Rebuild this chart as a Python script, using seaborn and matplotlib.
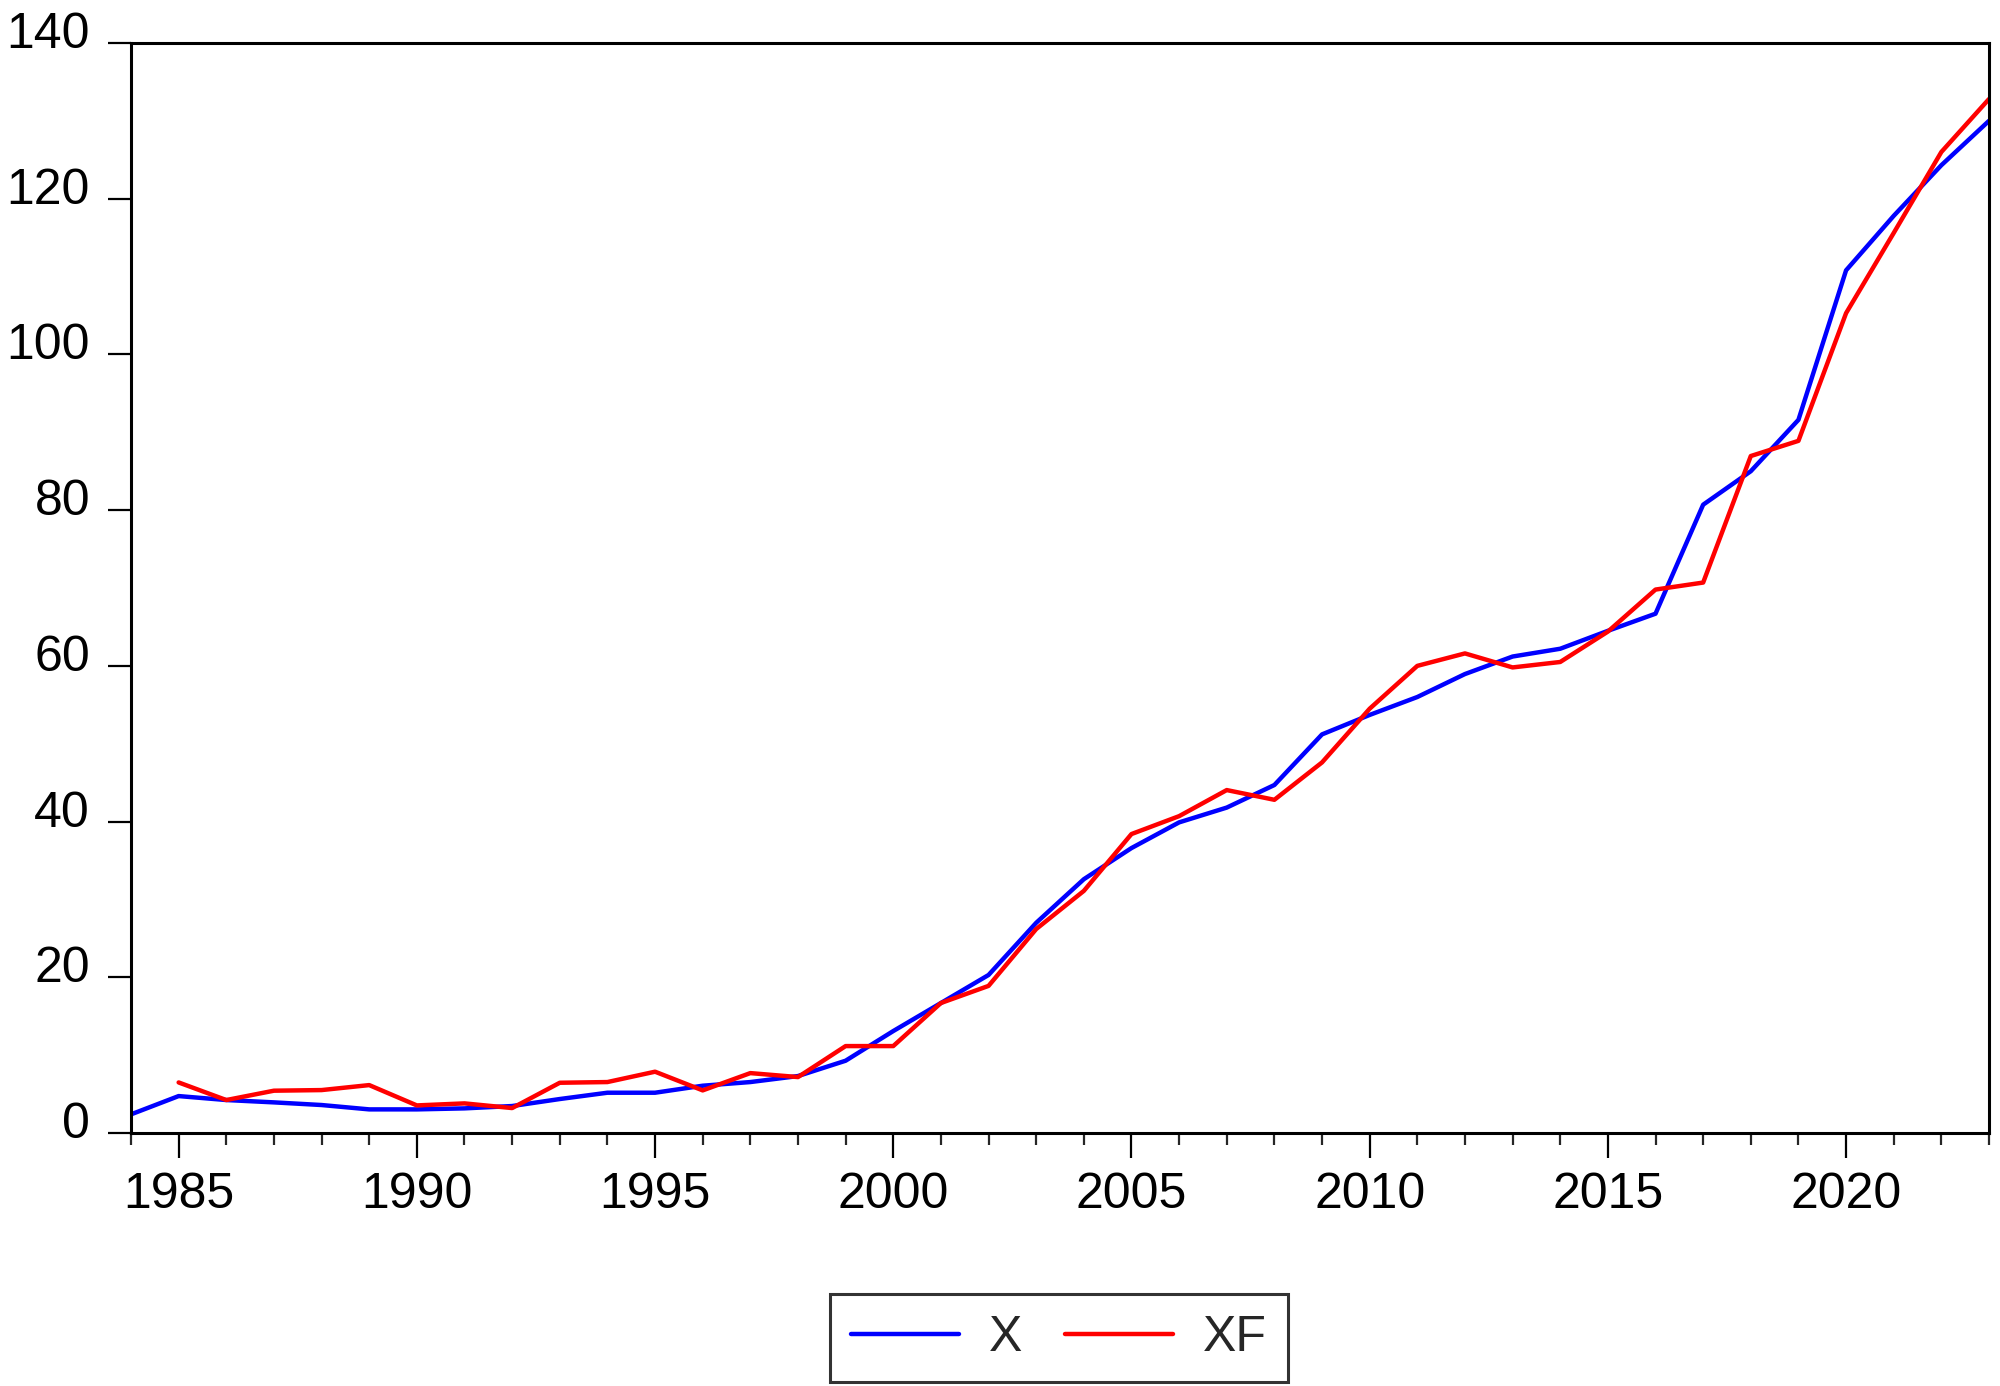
import numpy as np
import pandas as pd
import seaborn as sns
import matplotlib
matplotlib.use("Agg")
import matplotlib.pyplot as plt
from matplotlib.ticker import MultipleLocator
import matplotlib.transforms as mtransforms

# ---- data ----
years_x = list(range(1984, 2024))
x_vals = [2.4, 4.75, 4.24, 3.94, 3.6, 3.04, 3.04, 3.17, 3.47, 4.37,
          5.18, 5.18, 6.08, 6.55, 7.32, 9.29, 13.1, 16.7, 20.3, 27.0,
          32.6, 36.6, 39.9, 41.8, 44.7, 51.2, 53.7, 56.0, 58.95, 61.2,
          62.2, 64.5, 66.7, 80.7, 85.0, 91.6, 110.8, 117.8, 124.3, 130.0]

years_xf = list(range(1985, 2024))
xf_vals = [6.5, 4.24, 5.44, 5.52, 6.16, 3.55, 3.81, 3.21, 6.46, 6.55,
           7.88, 5.48, 7.7, 7.19, 11.17, 11.17, 16.7, 18.9, 26.2, 31.1,
           38.4, 40.7, 44.05, 42.8, 47.6, 54.5, 60.0, 61.6, 59.8, 60.5,
           64.4, 69.8, 70.7, 86.95, 88.9, 105.3, 115.6, 126.0, 132.8]

series_names = ["X", "XF"]
series_colors = ["#0000FF", "#FF0000"]
y_ticks = [0, 20, 40, 60, 80, 100, 120, 140]
x_major = [1985, 1990, 1995, 2000, 2005, 2010, 2015, 2020]

df = pd.concat([
    pd.DataFrame({"year": years_x, "value": x_vals, "series": "X"}),
    pd.DataFrame({"year": years_xf, "value": xf_vals, "series": "XF"}),
], ignore_index=True)

sns.set_style("white")
plt.rcParams["font.family"] = ["Liberation Sans", "DejaVu Sans"]

fig = plt.figure(figsize=(20, 13.86), dpi=100)
ax = fig.add_axes([0.0655, 0.1825, 0.929, 0.7865])

sns.lineplot(data=df, x="year", y="value", hue="series",
             hue_order=series_names, palette=series_colors,
             linewidth=3.2, legend=False, ax=ax, sort=True)

ax.set_xlim(1984, 2023)
ax.set_ylim(0, 140)
ax.set_xlabel("")
ax.set_ylabel("")

ax.set_yticks(y_ticks)
ax.set_yticklabels([str(v) for v in y_ticks])
ax.set_xticks(x_major)
ax.set_xticklabels([str(v) for v in x_major])
ax.xaxis.set_minor_locator(MultipleLocator(1))

for sp in ax.spines.values():
    sp.set_visible(True)
    sp.set_color("black")
    sp.set_linewidth(2.2)

fs = 36
ax.tick_params(axis="y", which="major", direction="out", length=16.5,
               width=1.6, pad=13, labelsize=fs, colors="black", left=True)
ax.tick_params(axis="x", which="major", direction="out", length=18,
               width=1.6, pad=10, labelsize=fs, colors="black", bottom=True)
ax.tick_params(axis="x", which="minor", direction="out", length=8.6,
               width=1.6, bottom=True)

# EViews places y labels slightly above their ticks
offset = mtransforms.ScaledTranslation(0, 13 / 100, fig.dpi_scale_trans)
for lab in ax.get_yticklabels():
    lab.set_transform(lab.get_transform() + offset)

handles = ax.lines[:2]
leg = fig.legend(handles, series_names, loc="center",
                 bbox_to_anchor=(0.5295, 0.0343),
                 bbox_transform=fig.transFigure, ncol=2, fontsize=fs,
                 frameon=True, fancybox=False, edgecolor="black",
                 handlelength=2.16, handletextpad=0.6, columnspacing=0.86,
                 borderpad=0.42, borderaxespad=0)
leg.get_frame().set_linewidth(2.2)
for lh in leg.get_lines():
    lh.set_linewidth(3.2)

fig.savefig("out.png", dpi=100, facecolor="white")
